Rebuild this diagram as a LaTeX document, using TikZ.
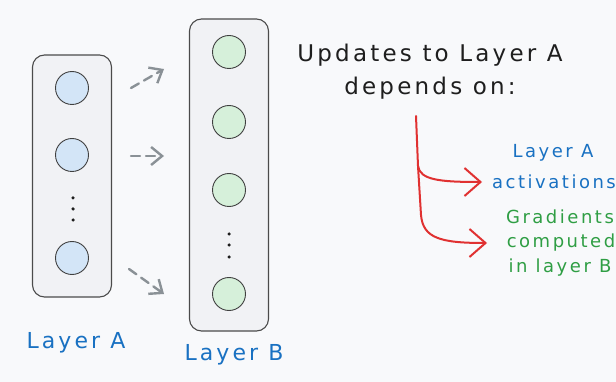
\documentclass[tikz,border=0pt]{standalone}
\usepackage{fontspec}
\setmainfont{DejaVu Sans}
\usetikzlibrary{arrows.meta,patterns}
\definecolor{bg}{HTML}{F8F9FB}
\definecolor{boxfill}{HTML}{F1F2F5}
\definecolor{afill}{HTML}{D3E5F7}
\definecolor{bfill}{HTML}{D6F0DA}
\definecolor{xblue}{HTML}{1971C2}
\definecolor{xgreen}{HTML}{2F9E44}
\definecolor{xred}{HTML}{E03131}
\definecolor{xgray}{HTML}{8A9196}
\definecolor{ink}{HTML}{1E1E1E}
\newcommand{\wide}[1]{\fontsize{#1}{#1}\selectfont\addfontfeature{LetterSpace=14}}
\tikzset{
  layerbox/.style={draw=ink!80, line width=1.1pt, rounded corners=12pt, fill=boxfill},
  neuron/.style={circle, draw=ink!85, line width=0.9pt, minimum size=33pt, inner sep=0pt},
  aneuron/.style={neuron, fill=afill},
  bneuron/.style={neuron, fill=bfill},
  vdot/.style={circle, fill=ink, inner sep=0pt, minimum size=3.5pt},
  flowarrow/.style={draw=xgray, line width=2.4pt, dash pattern=on 9pt off 6pt, line cap=round,
    -{Straight Barb[length=11pt,width=18pt,line width=2.4pt]}},
  redarrow/.style={draw=xred, line width=2pt, line cap=round,
    -{Straight Barb[length=16pt,width=28pt,line width=2pt]}},
  lbl/.style={inner sep=0pt, align=center},
}
\begin{document}
\begin{tikzpicture}[x=1pt,y=-1pt]
\useasboundingbox (0,0) rectangle (616,382);
\fill[bg] (0,0) rectangle (616,382);
% Layer A box
\node[layerbox, minimum width=79pt, minimum height=242pt] (boxA) at (72,176) {};
\node[aneuron] (a1) at (72,88) {};
\node[aneuron] (a2) at (72,155) {};
\node[vdot] (ad1) at (73,198) {};
\node[vdot] (ad2) at (73,209) {};
\node[vdot] (ad3) at (73,220) {};
\node[aneuron] (a3) at (72,258) {};
% Layer B box
\node[layerbox, minimum width=79pt, minimum height=312pt] (boxB) at (229,175) {};
\node[bneuron] (b1) at (229,52) {};
\node[bneuron] (b2) at (229,122) {};
\node[bneuron] (b3) at (229,190) {};
\node[vdot] (bd1) at (229,234) {};
\node[vdot] (bd2) at (229,245) {};
\node[vdot] (bd3) at (229,257) {};
\node[bneuron] (b4) at (229,294) {};
% gray arrows
\coordinate (s1) at (131,88);
\coordinate (e1) at (164,69);
\coordinate (s2) at (131,156);
\coordinate (e2) at (164,156);
\coordinate (s3) at (129,269);
\coordinate (e3) at (164,294);
\draw[flowarrow] (s1) -- (e1);
\draw[flowarrow] (s2) -- (e2);
\draw[flowarrow] (s3) -- (e3);
% layer labels
\node[lbl, text=xblue, font=\wide{22}] (labA) at (76,343) {Layer A};
\node[lbl, text=xblue, font=\wide{22}] (labB) at (234,355) {Layer B};
% title
\node[lbl, text=ink, font=\wide{23}] (title1) at (430,55) {Updates to Layer A};
\node[lbl, text=ink, font=\wide{23}] (title2) at (430,88) {depends on:};
% right labels
\node[lbl, text=xblue, font=\wide{18}] (act1) at (553,153) {Layer A};
\node[lbl, text=xblue, font=\wide{18}] (act2) at (554,182) {activations};
\node[lbl, text=xgreen, font=\wide{18}] (grad1) at (560,217) {Gradients};
\node[lbl, text=xgreen, font=\wide{18}] (grad2) at (561,243) {computed};
\node[lbl, text=xgreen, font=\wide{18}] (grad3) at (560,268) {in layer B};
% red branching arrows
\coordinate (r0) at (416,116);
\coordinate (r1) at (418,166);
\coordinate (t1) at (482,182);
\coordinate (r2) at (421,215);
\coordinate (t2) at (487,243);
\draw[redarrow] (r0) -- (r1) .. controls (420,180) and (440,182) .. (t1);
\draw[redarrow] (r1) -- (r2) .. controls (423,238) and (440,243) .. (t2);
\end{tikzpicture}
\end{document}
